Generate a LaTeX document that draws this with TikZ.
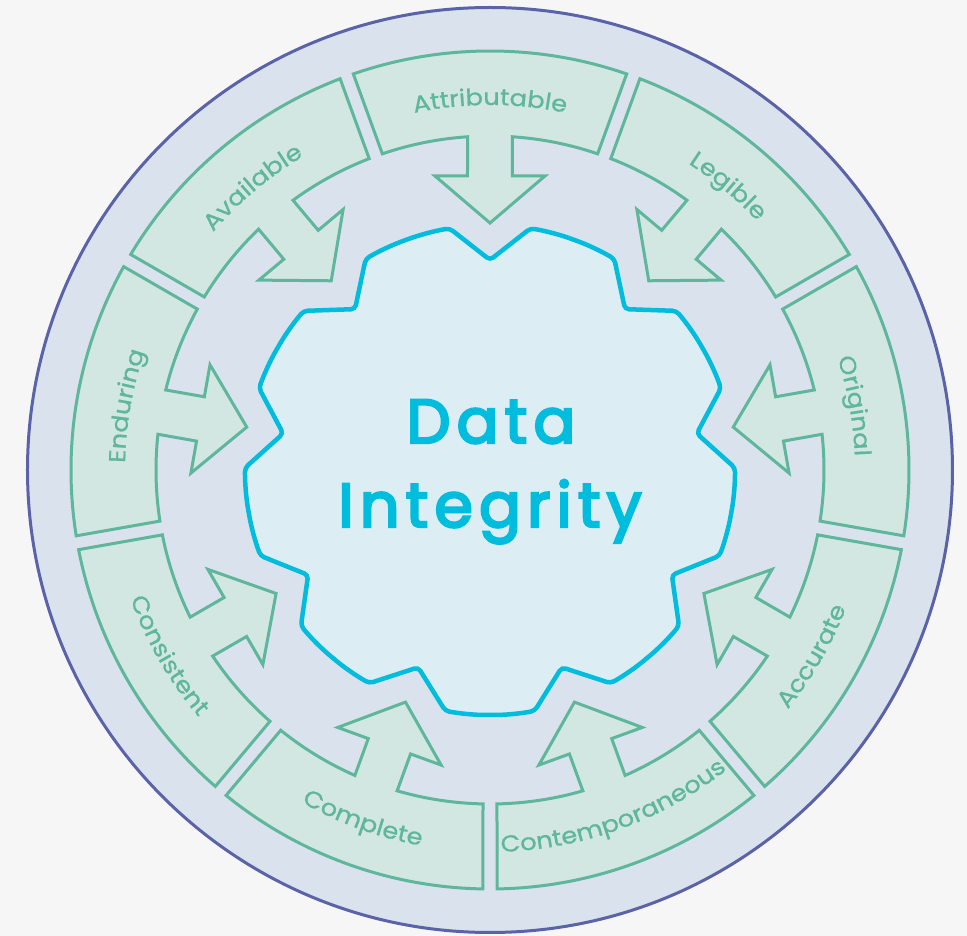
\documentclass[tikz,border=0pt]{standalone}
\usepackage{fontspec}
\usetikzlibrary{decorations.text}

\newfontfamily\labelfont[FakeStretch=1.12, FakeBold=0.8]{Poppins}
\newfontfamily\titlefont[LetterSpace=10, FakeBold=4]{Poppins}

\definecolor{pagebg}{HTML}{F6F6F6}
\definecolor{ringfill}{HTML}{DAE2EE}
\definecolor{ringline}{HTML}{5A62A8}
\definecolor{petalfill}{HTML}{D2E6E2}
\definecolor{petalline}{HTML}{5EB69B}
\definecolor{gearfill}{HTML}{DCEEF3}
\definecolor{gearline}{HTML}{00BCDD}

\begin{document}
\begin{tikzpicture}[x=1pt, y=1pt,
    ring/.style={fill=ringfill, draw=ringline, line width=3pt},
    petal/.style={fill=petalfill, draw=petalline, line width=3pt},
    gear/.style={fill=gearfill, draw=gearline, line width=4.5pt, rounded corners=4pt},
    title/.style={text=gearline, inner sep=0pt, anchor=base,
      font=\titlefont\fontsize{62}{84}\selectfont}]
    \useasboundingbox (-490,-466) rectangle (477,470);
    \fill[pagebg] (-490,-466) rectangle (477,470);

    % outer ring
    \draw[ring] (0,0) circle[radius=462.5];

    % gear with nine notches
    \draw[gear] (110:245) \foreach \k in {0,...,8} {
        arc[start angle={110-40*\k}, end angle={99.5-40*\k}, radius=245]
        -- ({90-40*\k}:210) -- ({80.5-40*\k}:245)
        arc[start angle={80.5-40*\k}, end angle={70-40*\k}, radius=245]};

    % arrow segments and their labels
    \foreach \a/\name/\up in {90/Attributable/1, 50/Legible/1, 10/Original/1,
        -30/Accurate/0, -70/Contemporaneous/0, -110/Complete/0,
        -150/Consistent/0, 170/Enduring/1, 130/Available/1} {
      \begin{scope}[rotate=\a-90]
        \draw[petal] (109.04:419) -- (108.8:334)
          arc[start angle=108.8, end angle=93.86, radius=334]
          -- (-22.5,294) -- (-55,294) -- (0,247) -- (55,294) -- (22.5,294)
          -- (86.14:334) arc[start angle=86.14, end angle=71.2, radius=334]
          -- (70.96:419) arc[start angle=70.96, end angle=109.04, radius=419] -- cycle;
      \end{scope}
      \ifnum\up=1
        \path[decorate, decoration={text along path, text align=center,
            text color=petalline, text/.expanded={|\noexpand\labelfont\noexpand\fontsize{23}{26}\noexpand\selectfont|\name}}]
          ({\a+20}:365) arc[start angle={\a+20}, end angle={\a-20}, radius=365];
      \else
        \path[decorate, decoration={text along path, text align=center,
            text color=petalline, text/.expanded={|\noexpand\labelfont\noexpand\fontsize{23}{26}\noexpand\selectfont|\name}}]
          ({\a-20}:382) arc[start angle={\a-20}, end angle={\a+20}, radius=382];
      \fi
    }

    % centre text
    \node[title] (data) at (1,27) {Data};
    \node[title] (integrity) at (0,-57) {Integrity};
\end{tikzpicture}
\end{document}
